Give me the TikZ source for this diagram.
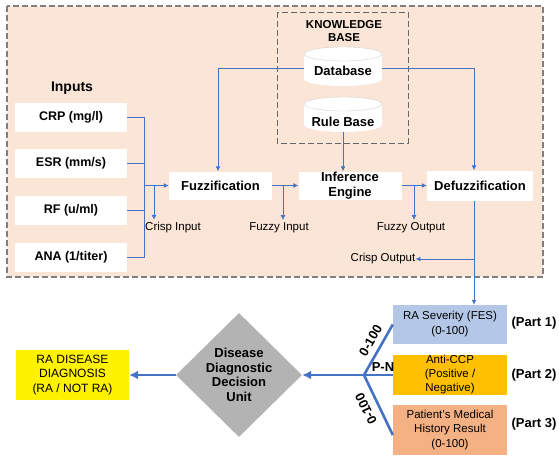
\documentclass[tikz,border=0pt]{standalone}
\usepackage{fontspec}
\setmainfont{Liberation Sans}
\usetikzlibrary{shapes.geometric,arrows.meta}
\definecolor{peach}{HTML}{FBE5D6}
\definecolor{lnblue}{HTML}{4472C4}
\definecolor{sevblue}{HTML}{B4C7E7}
\definecolor{ccp}{HTML}{FFC000}
\definecolor{hist}{HTML}{F4B183}
\definecolor{dgray}{HTML}{B3B3B3}
\definecolor{bordgray}{HTML}{7F7F7F}
\begin{document}
\begin{tikzpicture}[x=1pt,y=-1pt,
  wbox/.style={fill=white, inner sep=0, align=center, font=\fontsize{13}{15}\selectfont\bfseries},
  inbox/.style={fill=white, inner sep=0, minimum width=112, minimum height=29, font=\fontsize{12.5}{15}\selectfont\bfseries},
  lbl/.style={font=\fontsize{11.5}{13}\selectfont, inner sep=0},
  cbox/.style={inner sep=0, minimum width=114, align=center, font=\fontsize{11.5}{14.5}\selectfont},
  bold13/.style={font=\fontsize{13}{15}\selectfont\bfseries, inner sep=0},
  ln/.style={draw=lnblue, line width=0.9pt},
  arr/.style={ln, -{Latex[length=5pt,width=5pt]}},
  bigln/.style={draw=lnblue, line width=2.6pt},
  bigarr/.style={bigln, -{Latex[length=9pt,width=9pt]}},
  cylfill/.style={fill=white},
]
\useasboundingbox (0,0) rectangle (559,455);

% outer framed area
\draw[draw=bordgray, fill=peach, line width=1.2pt, dash pattern=on 6pt off 3pt] (7,6) rectangle (543,277);
% knowledge base frame
\draw[draw=bordgray!80!black, line width=1pt, dash pattern=on 6pt off 3pt] (277,12) rectangle (408,143);
\node[font=\fontsize{11.5}{13.5}\selectfont\bfseries, align=center, inner sep=0] (kb) at (344,31) {KNOWLEDGE\\BASE};

% cylinders
\fill[cylfill] (343,79) ellipse [x radius=39, y radius=7];
\fill[cylfill] (304,54) rectangle (382,79);
\draw[draw=gray!35, fill=white] (343,54) ellipse [x radius=39, y radius=7];
\fill[cylfill] (343,125) ellipse [x radius=39, y radius=7];
\fill[cylfill] (304,104) rectangle (382,125);
\draw[draw=gray!35, fill=white] (343,104) ellipse [x radius=39, y radius=7];

\node[wbox, fill=none, minimum width=78, minimum height=20] (db) at (343,71) {Database};
\node[wbox, fill=none, minimum width=78, minimum height=20] (rb) at (343,122) {Rule Base};

% inputs
\node[font=\fontsize{14}{16}\selectfont\bfseries, inner sep=0] (inputs) at (72,88) {Inputs};
\node[inbox] (crp) at (71,117) {CRP (mg/l)};
\node[inbox] (esr) at (71,163.5) {ESR (mm/s)};
\node[inbox] (rf) at (71,210) {RF (u/ml)};
\node[inbox] (ana) at (71,257.5) {ANA (1/titer)};

% processing blocks
\node[wbox, minimum width=103, minimum height=28] (fz) at (220.5,185.5) {Fuzzification};
\node[wbox, minimum width=103, minimum height=28, font=\fontsize{13}{15}\selectfont\bfseries] (ie) at (350,185.5) {Inference\\Engine};
\node[wbox, minimum width=106, minimum height=30] (dz) at (480,185.5) {Defuzzification};

% labels
\node[lbl] (ci) at (173,228) {Crisp Input};
\node[lbl] (fi) at (279,228) {Fuzzy Input};
\node[lbl] (fo) at (411,228) {Fuzzy Output};
\node[lbl] (co) at (383,259) {Crisp Output};

% input bus
\coordinate (bus) at (144,185.5);
\draw[ln] (crp.east) -- (crp.east -| bus) -- (ana.east -| bus) -- (ana.east);
\draw[ln] (esr.east) -- (esr.east -| bus);
\draw[ln] (rf.east) -- (rf.east -| bus);
\draw[arr] (bus) -- (fz.west);
\coordinate (cib) at (154,185.5);
\draw[arr, shorten >=2.5pt] (cib) -- (cib |- ci.north);

% database to fuzzification
\coordinate (fzx) at (218,0);
\draw[arr] (db.west |- 0,68) -| (fzx |- fz.north);

% rule base to inference
\draw[arr] (rb.south) -- (rb.south |- ie.north);

% fuzzification to inference
\draw[arr] (fz.east) -- (ie.west);
\coordinate (fib) at (283,185.5);
\draw[arr, shorten >=2.5pt] (fib) -- (fib |- fi.north);

% inference to defuzzification
\draw[arr] (ie.east) -- (dz.west);
\coordinate (fob) at (414,185.5);
\draw[arr, shorten >=2.5pt] (fob) -- (fob |- fo.north);

% database to defuzzification
\coordinate (dzx) at (474,0);
\draw[arr] (db.east |- 0,68) -| (dzx |- dz.north);

% bottom part boxes
\node[cbox, fill=sevblue, minimum height=39, font=\fontsize{11.5}{15}\selectfont] (ras) at (450,324.5) {RA Severity (FES)\\(0-100)};
\node[cbox, fill=ccp, minimum height=40, font=\fontsize{11.5}{14}\selectfont] (accp) at (450,375) {Anti-CCP\\(Positive /\\Negative)};
\node[cbox, fill=hist, minimum height=50, font=\fontsize{11.5}{14.5}\selectfont] (pmh) at (450,430) {Patient's Medical\\History Result\\(0-100)};

\node[bold13] (p1) at (534,323) {(Part 1)};
\node[bold13] (p2) at (534,375) {(Part 2)};
\node[bold13] (p3) at (534,424) {(Part 3)};

% defuzzification output
\draw[arr] (dzx |- dz.south) -- (dzx |- ras.north);
\coordinate (cob) at (474,259);
\draw[arr] (cob) -- (co.east);

% decision unit
\node[diamond, fill=dgray, minimum width=126, minimum height=124, inner sep=0, align=center, font=\fontsize{13}{14.5}\selectfont\bfseries] (ddu) at (239,375) {Disease\\Diagnostic\\Decision\\Unit};
\node[fill=yellow, minimum width=113, minimum height=50, inner sep=0, align=center, font=\fontsize{12}{14.5}\selectfont] (diag) at (72.5,375) {RA DISEASE\\DIAGNOSIS\\(RA / NOT RA)};

\coordinate (jn) at (364,375);
\draw[bigln] (jn) -- (ras.west);
\draw[bigln] (jn) -- (accp.west);
\draw[bigln] (jn) -- (pmh.west |- 393,435);
\draw[bigarr] (jn) -- (ddu.east);
\draw[bigarr] (ddu.west) -- (diag.east);

\node[bold13, rotate=60] (l1) at (370.5,340.5) {0-100};
\node[bold13, rotate=116] (l3) at (366,409) {0-100};
\node[bold13] (pn) at (383,367) {P-N};
\end{tikzpicture}
\end{document}
